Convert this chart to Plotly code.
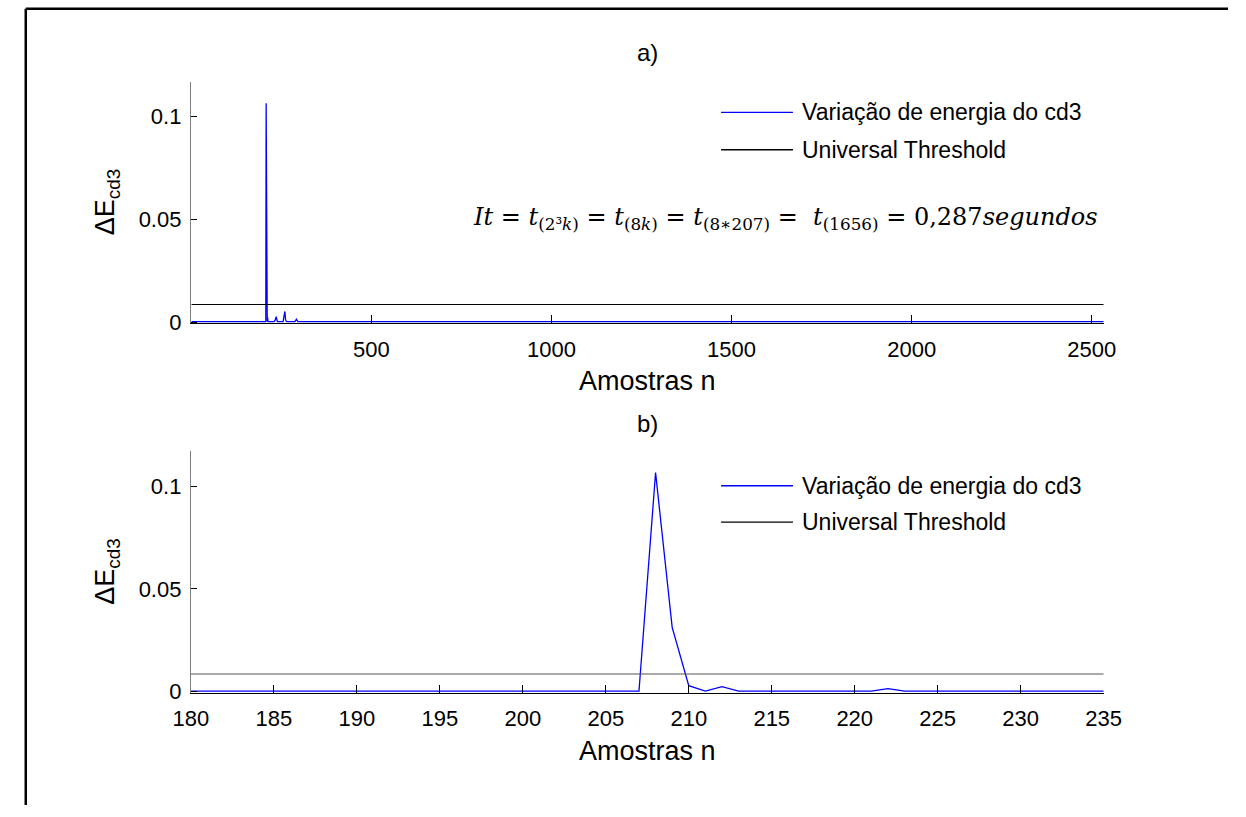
import plotly.graph_objects as go

# ---------------- data ----------------
# panel a) full signal (sparse list of samples; flat parts ~0)
n_a = [1, 207, 208, 209, 210, 211, 212, 213, 230, 233, 236, 239, 255, 258, 260, 262,
       265, 288, 292, 296, 365, 371, 377, 2533]
e_a = [0.0003, 0.0003, 0.1066, 0.0313, 0.0029, 0.0003, 0.0024, 0.0003, 0.0003, 0.0010,
       0.0027, 0.0003, 0.0003, 0.0025, 0.0052, 0.0010, 0.0003, 0.0003, 0.0014, 0.0003,
       0.0003, 0.0006, 0.0003, 0.0003]

# panel b) zoom 180..235
n_b = list(range(180, 236))
e_b = [0.0003, 0.0003, 0.0003, 0.0003, 0.0003, 0.0003, 0.0003, 0.0003, 0.0003, 0.0003,  # 180-189
       0.0003, 0.0003, 0.0003, 0.0003, 0.0003, 0.0003, 0.0003, 0.0003, 0.0003, 0.0003,  # 190-199
       0.0003, 0.0003, 0.0003, 0.0003, 0.0003, 0.0003, 0.0003, 0.0003, 0.1066, 0.0313,  # 200-209
       0.0029, 0.0003, 0.0024, 0.0003, 0.0003, 0.0003, 0.0003, 0.0003, 0.0003, 0.0003,  # 210-219
       0.0003, 0.0003, 0.0015, 0.0003, 0.0003, 0.0003, 0.0003, 0.0003, 0.0003, 0.0003,  # 220-229
       0.0003, 0.0003, 0.0003, 0.0003, 0.0003, 0.0003]                                  # 230-235

threshold = 0.0086
thr_a_n = [1, 2533]
thr_b_n = [180, 235]

series_names = ["Variação de energia do cd3", "Universal Threshold"]
ticks_a = [500, 1000, 1500, 2000, 2500]
ticks_b = list(range(180, 236, 5))
yticks = [0, 0.05, 0.1]
ytick_labels = ["0", "0.05", "0.1"]
titles = ["a)", "b)"]
xlabel = "Amostras n"
ylabel = "ΔE<sub>cd3</sub>"
formula = ("<i>It</i> = <i>t</i><sub>(2³<i>k</i>)</sub> = <i>t</i><sub>(8<i>k</i>)</sub> = "
           "<i>t</i><sub>(8∗207)</sub> =  <i>t</i><sub>(1656)</sub> = 0,287<i>segundos</i>")

# ---------------- layout helpers ----------------
W, H = 1246, 817
def px(x):
    return x / W
def py(y):
    return 1 - y / H

FONT = "Liberation Sans, Arial, sans-serif"
BLUE = "#0000FF"

fig = go.Figure()
fig.add_trace(go.Scatter(x=n_a, y=e_a, mode="lines", line=dict(color=BLUE, width=1.3),
                         xaxis="x", yaxis="y", showlegend=False, name=series_names[0]))
fig.add_trace(go.Scatter(x=thr_a_n, y=[threshold, threshold], mode="lines",
                         line=dict(color="black", width=1.2),
                         xaxis="x", yaxis="y", showlegend=False, name=series_names[1]))
fig.add_trace(go.Scatter(x=n_b, y=e_b, mode="lines", line=dict(color=BLUE, width=1.3),
                         xaxis="x2", yaxis="y2", showlegend=False, name=series_names[0]))
fig.add_trace(go.Scatter(x=thr_b_n, y=[threshold, threshold], mode="lines",
                         line=dict(color="#555555", width=1.2),
                         xaxis="x2", yaxis="y2", showlegend=False, name=series_names[1]))

xdom = [px(178), px(1118)]
ydom_a = [py(328), py(83)]
ydom_b = [py(703), py(458)]
yrange = [-0.0005, 0.117]

common_x = dict(showgrid=False, zeroline=False, showline=True, linecolor="black", linewidth=1,
                ticks="inside", ticklen=8, tickcolor="black", tickwidth=1, ticklabelstandoff=6,
                tickfont=dict(family=FONT, size=22, color="black"), mirror=False)
common_y = dict(showgrid=False, zeroline=False, showline=True, linecolor="#7f7f7f", linewidth=1,
                ticks="inside", ticklen=6, tickcolor="black", tickwidth=1, ticklabelstandoff=4,
                tickfont=dict(family=FONT, size=22, color="black"), range=yrange,
                tickvals=yticks, ticktext=ytick_labels)

fig.update_layout(
    width=W, height=H, margin=dict(l=0, r=0, t=0, b=0),
    paper_bgcolor="white", plot_bgcolor="white", showlegend=False,
    xaxis=dict(domain=xdom, anchor="y", range=[-1, 2533], tickvals=ticks_a,
               ticktext=[str(t) for t in ticks_a], **common_x),
    yaxis=dict(domain=ydom_a, anchor="x", **common_y),
    xaxis2=dict(domain=xdom, anchor="y2", range=[180, 235], tickvals=ticks_b,
                ticktext=[str(t) for t in ticks_b], **common_x),
    yaxis2=dict(domain=ydom_b, anchor="x2", **common_y),
)

annotations = []
shapes = []
# outer frame (left + top lines)
shapes.append(dict(type="line", xref="paper", yref="paper", x0=px(8), x1=px(8), y0=0, y1=py(9),
                   line=dict(color="black", width=2.5)))
shapes.append(dict(type="line", xref="paper", yref="paper", x0=px(8), x1=1, y0=py(9), y1=py(9),
                   line=dict(color="black", width=2.5)))

panels = [
    dict(title_y=53, xlabel_y=387, ylabel_y=205, leg_y=[114, 152], thr_col="black"),
    dict(title_y=430, xlabel_y=762, ylabel_y=580, leg_y=[493, 530], thr_col="black"),
]
for i, p in enumerate(panels):
    annotations.append(dict(text=titles[i], x=px(648), y=py(p["title_y"]), xref="paper", yref="paper",
                            showarrow=False, xanchor="center", yanchor="middle",
                            font=dict(family=FONT, size=24, color="black")))
    annotations.append(dict(text=xlabel, x=px(648), y=py(p["xlabel_y"]), xref="paper", yref="paper",
                            showarrow=False, xanchor="center", yanchor="middle",
                            font=dict(family=FONT, size=27, color="black")))
    annotations.append(dict(text=ylabel, x=px(92), y=py(p["ylabel_y"]), xref="paper", yref="paper",
                            showarrow=False, xanchor="center", yanchor="middle", textangle=-90,
                            font=dict(family=FONT, size=27, color="black")))
    cols = [BLUE, p["thr_col"]]
    for j, name in enumerate(series_names):
        yy = py(p["leg_y"][j])
        shapes.append(dict(type="line", xref="paper", yref="paper", x0=px(724), x1=px(798),
                           y0=yy, y1=yy, line=dict(color=cols[j], width=1.3)))
        annotations.append(dict(text=name, x=px(805), y=yy, xref="paper", yref="paper",
                                showarrow=False, xanchor="left", yanchor="middle",
                                font=dict(family=FONT, size=23, color="black")))

annotations.append(dict(text=formula, x=px(1114), y=py(222), xref="paper", yref="paper",
                        showarrow=False, xanchor="right", yanchor="middle",
                        font=dict(family="DejaVu Serif, Liberation Serif, serif", size=24, color="black")))

fig.update_layout(annotations=annotations, shapes=shapes)
fig.write_html("out.html")
